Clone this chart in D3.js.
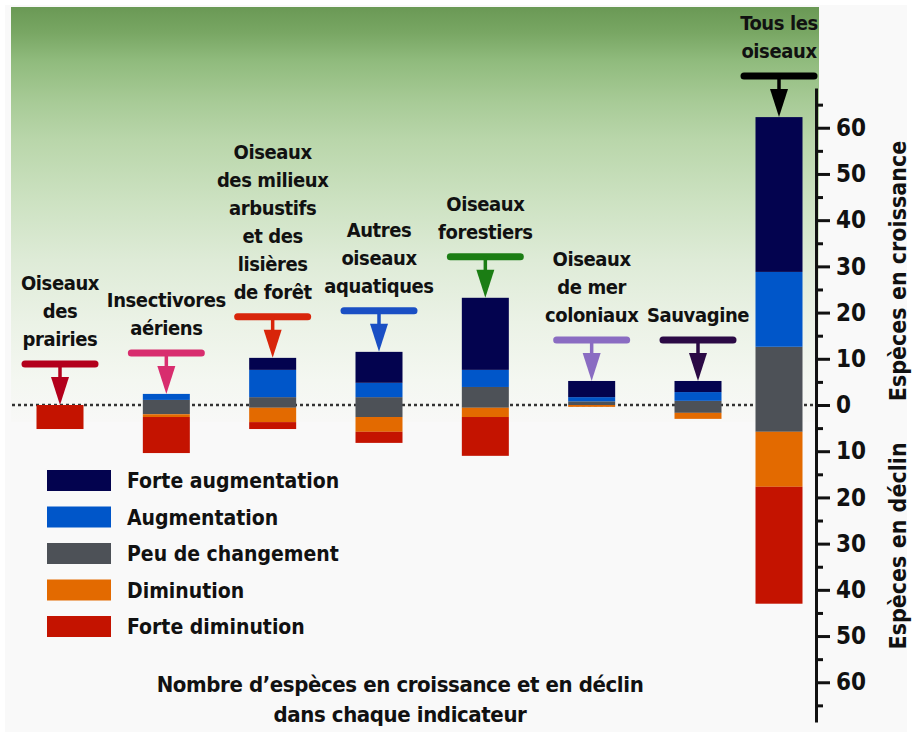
<!DOCTYPE html>
<html>
<head>
<meta charset="utf-8">
<script src="https://cdn.jsdelivr.net/npm/d3@7"></script>
<style>
  body { margin: 0; background: #ffffff; }
  text { font-family: "Liberation Sans Narrow", "DejaVu Sans Condensed", sans-serif; font-weight: bold; fill: #111; }
</style>
</head>
<body>
<script>
// indicateurs (le dernier est le total, placé à côté de l'axe)
const indicateurs = ["prairies", "insectivores", "arbustifs", "aquatiques", "forestiers", "mer", "sauvagine", "tous"];
const etiquettes = [
  ["Oiseaux", "des", "prairies"],
  ["Insectivores", "aériens"],
  ["Oiseaux", "des milieux", "arbustifs", "et des", "lisières", "de forêt"],
  ["Autres", "oiseaux", "aquatiques"],
  ["Oiseaux", "forestiers"],
  ["Oiseaux", "de mer", "coloniaux"],
  ["Sauvagine"],
  ["Tous les", "oiseaux"]
];
const couleursFleches = ["#b3001b", "#d82d6e", "#d8250a", "#1a4fc4", "#1b7d14", "#8a6cc2", "#2b0a45", "#000000"];

// nombre d'espèces par catégorie de tendance
const forteAugmentation = [0, 0, 2.6, 6.7, 15.6, 3.5, 2.4, 33.5];
const augmentation      = [0, 1.3, 5.9, 3.1, 3.7, 0.9, 1.9, 16.2];
const peuChangementHaut = [0, 1.1, 1.7, 1.7, 3.9, 0.8, 0.9, 12.6];
const peuChangementBas  = [0, 2.0, 0.6, 2.6, 0.6, 0, 1.7, 5.8];
const diminution        = [0, 0.6, 3.1, 3.2, 2.0, 0.4, 1.3, 11.9];
const forteDiminution   = [5.2, 7.8, 1.5, 2.4, 8.4, 0, 0, 25.3];

const legende = ["Forte augmentation", "Augmentation", "Peu de changement", "Diminution", "Forte diminution"];
const couleurs = ["#03034f", "#0056c9", "#4d5157", "#e36a00", "#c41300"];
const ticksMajeurs = [-60, -50, -40, -30, -20, -10, 0, 10, 20, 30, 40, 50, 60];
const ticksMineurs = [-65, -55, -45, -35, -25, -15, -5, 5, 15, 25, 35, 45, 55, 65];

const width = 912, height = 736;
const axeX = 816;
const largeurBarre = 47;

const svg = d3.select("body").append("svg")
  .attr("width", width)
  .attr("height", height);

const defs = svg.append("defs");
const grad = defs.append("linearGradient")
  .attr("id", "fond")
  .attr("x1", 0).attr("y1", 0).attr("x2", 0).attr("y2", 1);
[[0, "#6a9955"], [0.06, "#78a663"], [0.13, "#90bb7d"], [0.23, "#a8cb97"], [0.32, "#b9d6aa"],
 [0.47, "#cde2c2"], [0.61, "#deebd7"], [0.76, "#ebf2e6"], [0.9, "#f4f7f1"], [1, "#f8f8f7"]]
  .forEach(s => grad.append("stop").attr("offset", s[0]).attr("stop-color", s[1]));

svg.append("rect")
  .attr("x", 5).attr("y", 5)
  .attr("width", 902).attr("height", 727)
  .attr("fill", "#f9f9f9");
svg.append("rect")
  .attr("x", 11).attr("y", 7)
  .attr("width", 808).attr("height", 415)
  .attr("fill", "url(#fond)");

const y = d3.scaleLinear()
  .domain([-68.6, 68.6])
  .range([722, 88]);

const x = d3.scalePoint()
  .domain(indicateurs.slice(0, 7))
  .range([60, 698]);

function xCentre(d, i) {
  return i === 7 ? axeX - 37 : x(d);
}

// ligne pointillée du zéro
svg.append("line")
  .attr("x1", 12).attr("x2", axeX)
  .attr("y1", y(0)).attr("y2", y(0))
  .attr("stroke", "#333")
  .attr("stroke-width", 2.5)
  .attr("stroke-dasharray", "3,3");

// segments empilés
const segments = [];
indicateurs.forEach(function(d, i) {
  let haut = 0;
  [[peuChangementHaut, 2], [augmentation, 1], [forteAugmentation, 0]].forEach(function(s) {
    const v = s[0][i];
    if (v > 0) segments.push({ i: i, c: d, y0: haut, y1: haut + v, k: s[1] });
    haut += v;
  });
  let bas = 0;
  [[peuChangementBas, 2], [diminution, 3], [forteDiminution, 4]].forEach(function(s) {
    const v = s[0][i];
    if (v > 0) segments.push({ i: i, c: d, y0: bas - v, y1: bas, k: s[1] });
    bas -= v;
  });
});

svg.append("g").selectAll("rect")
  .data(segments)
  .enter()
    .append("rect")
    .attr("x", d => xCentre(d.c, d.i) - largeurBarre / 2)
    .attr("width", largeurBarre)
    .attr("y", d => y(d.y1))
    .attr("height", d => y(d.y0) - y(d.y1))
    .attr("fill", d => couleurs[d.k]);

// flèches et étiquettes
indicateurs.forEach(function(d, i) {
  const cx = xCentre(d, i);
  const sommet = y(forteAugmentation[i] + augmentation[i] + peuChangementHaut[i]);
  const barreT = sommet - 41;
  const col = couleursFleches[i];
  const g = svg.append("g");

  g.append("line")
    .attr("x1", cx - 35).attr("x2", cx + 35)
    .attr("y1", barreT).attr("y2", barreT)
    .attr("stroke", col)
    .attr("stroke-width", 7)
    .attr("stroke-linecap", "round");
  g.append("line")
    .attr("x1", cx).attr("x2", cx)
    .attr("y1", barreT).attr("y2", sommet - 26)
    .attr("stroke", col)
    .attr("stroke-width", 3.5);
  g.append("path")
    .attr("d", d3.line()([[cx - 9, sommet - 28], [cx + 9, sommet - 28], [cx, sommet]]) + "Z")
    .attr("fill", col);

  const lignes = etiquettes[i];
  g.selectAll("text")
    .data(lignes)
    .enter()
      .append("text")
      .attr("x", cx)
      .attr("y", (l, j) => barreT - 18 - (lignes.length - 1 - j) * 28)
      .attr("text-anchor", "middle")
      .attr("font-size", 20)
      .attr("letter-spacing", -0.4)
      .text(l => l);
});

// axe de droite
const axe = svg.append("g").attr("transform", "translate(" + axeX + ",0)");
axe.append("g")
  .call(d3.axisRight(y)
    .tickValues(ticksMajeurs)
    .tickSize(14)
    .tickSizeOuter(0)
    .tickPadding(6)
    .tickFormat(v => Math.abs(v)))
  .call(a => a.selectAll("text").attr("font-size", 24).attr("fill", "#111"))
  .call(a => a.selectAll("line, path").attr("stroke", "#111").attr("stroke-width", 3));
axe.append("g")
  .call(d3.axisRight(y)
    .tickValues(ticksMineurs)
    .tickSize(7)
    .tickFormat(""))
  .call(a => a.select(".domain").remove())
  .call(a => a.selectAll("line").attr("stroke", "#111").attr("stroke-width", 3));

svg.append("text")
  .attr("transform", "translate(906," + y(29) + ") rotate(-90)")
  .attr("text-anchor", "middle")
  .attr("font-size", 23)
  .text("Espèces en croissance");
svg.append("text")
  .attr("transform", "translate(906," + y(-30.5) + ") rotate(-90)")
  .attr("text-anchor", "middle")
  .attr("font-size", 23)
  .text("Espèces en déclin");

// légende
const leg = svg.append("g").selectAll("g")
  .data(legende)
  .enter()
    .append("g")
    .attr("transform", (d, i) => "translate(47," + (470 + i * 36.5) + ")");
leg.append("rect")
  .attr("width", 64)
  .attr("height", 21)
  .attr("fill", (d, i) => couleurs[i]);
leg.append("text")
  .attr("x", 80)
  .attr("y", 18)
  .attr("font-size", 21)
  .text(d => d);

// titre du bas
svg.append("g").selectAll("text")
  .data(["Nombre d’espèces en croissance et en déclin", "dans chaque indicateur"])
  .enter()
    .append("text")
    .attr("x", 400)
    .attr("y", (d, i) => 692 + i * 30)
    .attr("text-anchor", "middle")
    .attr("font-size", 22)
    .attr("letter-spacing", -0.4)
    .text(d => d);
</script>
</body>
</html>
